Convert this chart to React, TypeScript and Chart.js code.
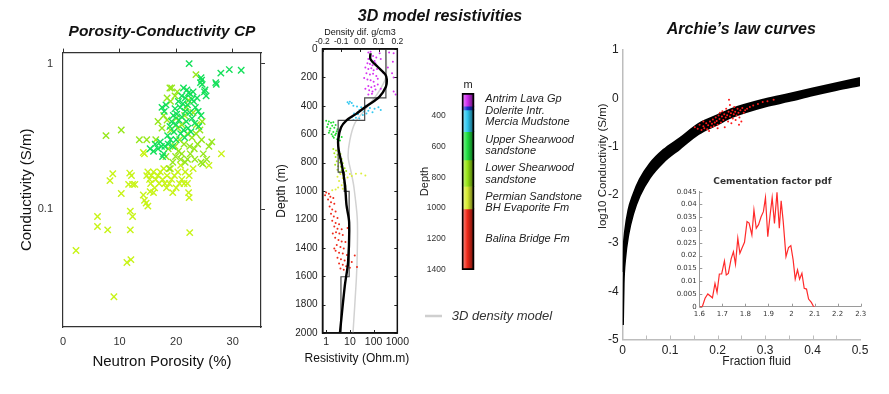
import React, { useEffect, useRef } from "react";
import { Chart, registerables } from "chart.js";

Chart.register(...registerables);

const SANS = "'Liberation Sans', Arial, Helvetica, sans-serif";
const DEJAVU = "'DejaVu Sans', Verdana, sans-serif";
Chart.defaults.font.family = SANS;

// ---------------- Panel 1: Porosity-Conductivity cross-plot ----------------
const p1XTicks = [0, 10, 20, 30];
const p1YTicks = [0.1, 1];
const greenPts: [number, number][] = [
  [22.3, 1.0], [24.4, 0.8], [24.5, 0.77], [24.3, 0.74], [24.6, 0.72], [25.1, 0.66], [25.0, 0.64], [27.0, 0.74],
  [27.1, 0.72], [27.9, 0.86], [29.4, 0.91], [31.5, 0.9], [21.3, 0.68], [21.9, 0.66], [22.2, 0.63], [22.5, 0.62],
  [21.0, 0.6], [21.6, 0.58], [22.8, 0.57], [23.1, 0.55], [20.4, 0.55], [21.2, 0.53], [22.0, 0.52], [23.4, 0.5],
  [23.7, 0.58], [20.7, 0.5], [19.8, 0.49], [21.6, 0.47], [22.4, 0.46], [23.9, 0.47], [20.1, 0.45], [19.5, 0.44],
  [21.0, 0.43], [22.8, 0.42], [24.4, 0.44], [20.5, 0.41], [19.2, 0.4], [21.8, 0.4], [23.3, 0.39], [20.0, 0.38],
  [18.9, 0.37], [22.1, 0.36], [21.3, 0.35], [24.0, 0.37], [19.6, 0.34], [20.8, 0.33], [18.5, 0.32], [22.6, 0.34],
  [17.5, 0.5], [17.9, 0.47], [18.2, 0.52], [15.4, 0.26], [16.0, 0.25], [16.8, 0.26], [17.4, 0.27], [16.3, 0.28],
  [17.2, 0.29], [17.8, 0.24], [18.0, 0.27], [17.6, 0.23], [18.6, 0.28], [19.0, 0.3], [19.4, 0.27], [20.0, 0.3],
  [21.5, 0.31], [25.3, 0.6], [23.0, 0.64],
];
const limePts: [number, number][] = [
  [23.5, 0.84], [18.9, 0.68], [19.2, 0.68], [18.4, 0.58], [19.0, 0.55], [19.8, 0.6], [20.2, 0.64], [22.2, 0.56],
  [21.8, 0.5], [23.0, 0.46], [17.8, 0.44], [18.4, 0.41], [19.0, 0.35], [20.3, 0.36], [21.0, 0.38], [22.0, 0.33],
  [22.8, 0.31], [23.5, 0.33], [24.2, 0.35], [24.6, 0.4], [20.6, 0.3], [21.4, 0.28], [22.4, 0.27], [23.2, 0.26],
  [23.8, 0.28], [24.5, 0.3], [19.8, 0.27], [20.4, 0.25], [19.9, 0.23], [21.0, 0.24], [22.0, 0.22], [23.3, 0.22],
  [24.8, 0.24], [25.8, 0.27], [26.3, 0.29], [18.6, 0.26], [18.2, 0.23], [17.5, 0.36], [16.4, 0.3], [14.8, 0.3],
  [13.5, 0.3], [24.4, 0.21], [24.7, 0.205], [25.4, 0.22], [22.5, 0.24], [21.6, 0.21], [20.8, 0.22], [19.4, 0.21],
  [18.8, 0.19], [10.3, 0.35], [7.6, 0.32], [16.8, 0.4], [21.5, 0.44], [20.0, 0.42], [23.6, 0.38],
];
const yellowPts: [number, number][] = [
  [28.0, 0.24], [25.8, 0.2], [22.3, 0.17], [22.0, 0.15], [22.2, 0.13], [22.3, 0.12], [22.4, 0.069], [21.6, 0.18],
  [21.0, 0.16], [20.6, 0.15], [20.0, 0.14], [19.7, 0.17], [19.2, 0.16], [18.8, 0.15], [18.4, 0.17], [18.0, 0.15],
  [17.6, 0.16], [17.2, 0.18], [16.8, 0.17], [16.4, 0.16], [16.0, 0.18], [15.6, 0.17], [15.3, 0.16], [15.0, 0.18],
  [14.8, 0.17], [15.5, 0.15], [16.2, 0.14], [17.0, 0.15], [18.3, 0.14], [19.4, 0.13], [16.0, 0.13], [20.3, 0.18],
  [19.0, 0.19], [17.8, 0.19], [21.4, 0.15], [20.8, 0.2], [23.0, 0.19], [14.2, 0.245], [14.4, 0.24], [14.2, 0.125],
  [14.4, 0.115], [14.7, 0.11], [15.0, 0.105], [15.4, 0.132], [11.6, 0.148], [12.3, 0.148], [12.7, 0.148],
  [11.8, 0.177], [12.1, 0.17], [8.3, 0.157], [8.8, 0.175], [10.3, 0.128], [11.9, 0.097], [12.3, 0.089],
  [11.9, 0.072], [7.9, 0.072], [6.1, 0.089], [6.1, 0.076], [2.3, 0.052], [9.0, 0.025], [11.3, 0.043], [12.0, 0.045],
];

// ---------------- Panel 2: 3D model resistivities ----------------
const depthTicks = [0, 200, 400, 600, 800, 1000, 1200, 1400, 1600, 1800, 2000];
const resTicks = [1, 10, 100, 1000];
const densityTicks = [-0.2, -0.1, 0, 0.1, 0.2];
const magentaRes: [number, number][] = [
  [60, 25], [75, 20], [180, 30], [450, 25], [700, 30], [70, 45], [95, 50], [130, 60], [60, 70], [80, 75], [110, 85],
  [200, 70], [55, 100], [70, 105], [90, 115], [120, 100], [650, 90], [45, 130], [60, 140], [80, 135], [100, 150],
  [140, 140], [400, 130], [50, 170], [70, 180], [95, 175], [130, 190], [250, 165], [600, 170], [40, 205], [55, 215],
  [75, 220], [100, 230], [150, 210], [700, 200], [60, 260], [80, 270], [110, 260], [150, 250], [45, 280], [65, 290],
  [90, 300], [120, 285], [200, 280], [60, 320], [85, 315], [700, 300], [850, 320],
];
const cyanRes: [number, number][] = [
  [8, 375], [10, 372], [12, 380], [9, 385], [14, 400], [20, 405], [30, 410], [45, 400], [70, 415], [110, 420],
  [160, 410], [200, 430], [25, 430], [40, 440], [60, 435], [90, 445], [15, 455], [22, 460], [35, 465], [50, 455],
  [12, 480], [18, 485], [25, 490], [9, 495], [14, 500],
];
const greenRes: [number, number][] = [
  [1.0, 505], [1.3, 510], [1.6, 520], [2.0, 515], [1.2, 530], [1.8, 540], [2.5, 535], [1.1, 550], [1.5, 560],
  [2.2, 555], [3.0, 565], [1.4, 575], [2.0, 585], [2.8, 580], [1.7, 600], [2.4, 605], [3.5, 610], [4.5, 620],
  [2.1, 625], [2.9, 635], [3.8, 645], [1.9, 615], [2.6, 595], [1.3, 590],
];
const limeRes: [number, number][] = [
  [2.0, 705], [2.6, 715], [3.3, 720], [2.2, 735], [3.0, 745], [4.0, 740], [2.5, 760], [3.5, 770], [4.5, 775],
  [2.8, 790], [3.8, 800], [5.0, 805], [2.4, 815], [3.2, 825], [4.2, 830], [6.0, 840], [3.0, 850], [4.5, 855],
  [7.0, 860], [3.6, 870],
];
const yellowRes: [number, number][] = [
  [4.0, 880], [6.0, 885], [10, 880], [18, 878], [30, 876], [45, 890], [3.0, 900], [5.0, 910], [8, 905], [3.5, 930],
  [5.5, 940], [4.5, 960], [6.5, 965], [3.2, 975], [2.5, 990], [5.0, 985], [1.8, 995], [12, 895],
];
const redRes: [number, number][] = [
  [1.0, 1010], [1.3, 1020], [0.9, 1030], [1.5, 1040], [2.0, 1050], [1.2, 1060], [1.6, 1080], [2.2, 1090],
  [1.4, 1110], [1.8, 1130], [2.5, 1145], [1.6, 1160], [2.1, 1180], [3.0, 1190], [1.8, 1210], [2.5, 1225],
  [3.5, 1235], [2.2, 1250], [3.0, 1265], [4.5, 1270], [8, 1260], [2.6, 1290], [3.6, 1300], [5.0, 1310],
  [2.4, 1330], [3.3, 1345], [4.5, 1355], [6.5, 1360], [2.8, 1380], [4.0, 1395], [5.5, 1405], [2.5, 1420],
  [3.5, 1435], [5.0, 1440], [7.5, 1450], [16, 1455], [3.0, 1470], [4.2, 1480], [6.0, 1490], [12, 1500],
  [3.5, 1510], [5.0, 1520], [7.0, 1530], [20, 1535], [4.0, 1545], [5.5, 1555], [10, 1540], [2.2, 1405], [1.9, 1300],
];
const modelCurve: [number, number][] = [
  [74, 30], [74, 72], [148, 125], [310, 179], [360, 214], [330, 266], [174, 337], [57, 396], [19, 455], [7.2, 502],
  [4.2, 553], [3.2, 643], [3.4, 714], [4.5, 808], [6.2, 955], [7.2, 1100], [9.3, 1220], [8.4, 1500], [6.1, 1668],
  [3.8, 2000],
];
const stepModel: [number, number][] = [
  [330, 0], [330, 344], [42, 344], [42, 502], [3.2, 502], [3.2, 867], [5.8, 867], [5.8, 1003], [9.3, 1003],
  [9.3, 1604], [4.2, 1604], [4.2, 2000],
];
const densityModel: [number, number][] = [
  [0.139, 0], [0.139, 196], [0.095, 313], [0.025, 431], [-0.028, 525], [-0.054, 643], [-0.063, 761],
  [-0.045, 879], [-0.032, 973], [-0.014, 1196], [-0.014, 1432], [-0.019, 1620], [-0.037, 2000],
];

// ---------------- Colour bar ----------------
const cbTicks = [400, 600, 800, 1000, 1200, 1400];
const bandStart = [255, 340, 365, 505, 688, 860, 1005];
const bandEnd = [340, 365, 505, 688, 860, 1005, 1400];
const bandColors = ["#d02cf0", "#1a2fd0", "#2ec8f0", "#1ee040", "#98e614", "#d8ec30", "#f02818"];
const formationNames = [
  "Antrim Lava Gp", "Dolerite Intr.", "Mercia Mudstone", "Upper Shearwood", "sandstone",
  "Lower Shearwood", "sandstone", "Permian Sandstone", "BH Evaporite Fm", "Balina Bridge Fm",
];
const formationDepths = [294, 372, 441, 558, 633, 742, 815, 928, 996, 1199];

// ---------------- Panel 3: Archie's law ----------------
const archXTicks = [0, 0.1, 0.2, 0.3, 0.4, 0.5];
const archXMinor = [0.05, 0.1, 0.15, 0.2, 0.25, 0.3, 0.35, 0.4, 0.45];
const archYTicks = [-5, -4, -3, -2, -1, 0, 1];
const archPhi = [0.0005, 0.002, 0.005, 0.012, 0.022, 0.036, 0.057, 0.086, 0.12, 0.16, 0.2, 0.23, 0.3, 0.35, 0.4, 0.45, 0.5];
const archTop = [-3.6, -3.1, -2.75, -2.32, -2.0, -1.68, -1.36, -1.07, -0.83, -0.53, -0.35, -0.22, -0.02, 0.09, 0.2, 0.31, 0.42];
const archBot = [-4.7, -3.85, -3.35, -2.82, -2.4, -2.02, -1.65, -1.32, -1.05, -0.74, -0.54, -0.39, -0.17, -0.06, 0.06, 0.17, 0.27];
const archPts: [number, number][] = [
  [0.152, -0.6], [0.158, -0.63], [0.162, -0.55], [0.166, -0.66], [0.17, -0.58], [0.172, -0.62], [0.176, -0.52],
  [0.178, -0.64], [0.18, -0.56], [0.184, -0.48], [0.186, -0.6], [0.188, -0.53], [0.19, -0.44], [0.192, -0.58],
  [0.194, -0.5], [0.196, -0.4], [0.198, -0.47], [0.2, -0.55], [0.202, -0.36], [0.204, -0.43], [0.205, -0.3],
  [0.207, -0.5], [0.209, -0.38], [0.21, -0.27], [0.212, -0.45], [0.214, -0.33], [0.215, -0.6], [0.217, -0.4],
  [0.218, -0.22], [0.22, -0.35], [0.222, -0.48], [0.223, -0.28], [0.224, -0.03], [0.226, -0.38], [0.228, -0.31],
  [0.229, -0.52], [0.231, -0.25], [0.232, -0.42], [0.234, -0.33], [0.235, -0.18], [0.237, -0.28], [0.238, -0.45],
  [0.24, -0.36], [0.242, -0.22], [0.244, -0.3], [0.246, -0.4], [0.248, -0.25], [0.25, -0.48], [0.252, -0.2],
  [0.255, -0.3], [0.258, -0.25], [0.262, -0.22], [0.268, -0.18], [0.275, -0.15], [0.285, -0.12], [0.295, -0.08],
  [0.305, -0.06], [0.318, -0.03], [0.17, -0.48], [0.182, -0.68], [0.2, -0.62], [0.226, -0.14], [0.245, -0.55],
];

// ---------------- Inset: cementation factor pdf ----------------
const pdfXTicks = [1.6, 1.7, 1.8, 1.9, 2.0, 2.1, 2.2, 2.3];
const pdfYTicks = [0, 0.005, 0.01, 0.015, 0.02, 0.025, 0.03, 0.035, 0.04, 0.045];
const pdfPts: [number, number][] = [
  [1.6, 0], [1.613, 0], [1.625, 0.0033], [1.637, 0.005], [1.657, 0.0035], [1.668, 0.0091], [1.677, 0.0056],
  [1.687, 0.0128], [1.697, 0.0128], [1.709, 0.0179], [1.717, 0.0124], [1.726, 0.013], [1.738, 0.0187],
  [1.748, 0.0215], [1.757, 0.0166], [1.767, 0.0268], [1.776, 0.0209], [1.784, 0.0227], [1.796, 0.0252],
  [1.807, 0.0333], [1.816, 0.0327], [1.828, 0.0281], [1.837, 0.0378], [1.847, 0.0307], [1.857, 0.0321],
  [1.868, 0.0352], [1.878, 0.0372], [1.887, 0.0427], [1.897, 0.0274], [1.907, 0.0358], [1.916, 0.0427],
  [1.926, 0.0326], [1.937, 0.0448], [1.947, 0.0307], [1.955, 0.0414], [1.964, 0.0333], [1.976, 0.0196],
  [1.987, 0.0231], [1.997, 0.0239], [2.007, 0.0183], [2.016, 0.0108], [2.026, 0.0144], [2.035, 0.0108],
  [2.045, 0.0131], [2.055, 0.0072], [2.065, 0.0069], [2.074, 0.003], [2.086, 0.0017], [2.096, 0], [2.1, 0],
];

// ---------------- helpers ----------------
const toXY = (pts: [number, number][]) => pts.map(([x, y]) => ({ x, y }));
const fixTicks = (vals: number[]) => (s: any) => {
  s.ticks = vals.map((v) => ({ value: v }));
};
const plain = (v: any) => String(Number(Number(v).toFixed(4)));

function mix(hex: string, to: string, t: number) {
  const p = (h: string) => [1, 3, 5].map((i) => parseInt(h.slice(i, i + 2), 16));
  const a = p(hex);
  const b = p(to);
  return `rgb(${a.map((v, i) => Math.round(v + (b[i] - v) * t)).join(",")})`;
}

type TickSpec = { axis: string; side: "top" | "bottom" | "left" | "right"; len: number; color: string; values?: number[] };
function innerTicks(specs: TickSpec[], frame?: { color: string; width: number }) {
  return {
    id: "innerTicks",
    afterDraw(chart: any) {
      const { ctx, chartArea: a } = chart;
      ctx.save();
      for (const s of specs) {
        const sc = chart.scales[s.axis];
        if (!sc) continue;
        const vals = s.values ?? sc.ticks.map((t: any) => t.value);
        ctx.strokeStyle = s.color;
        ctx.lineWidth = 1;
        ctx.beginPath();
        for (const v of vals) {
          const p = Math.round(sc.getPixelForValue(v)) + 0.5;
          if (s.side === "bottom") { ctx.moveTo(p, a.bottom); ctx.lineTo(p, a.bottom - s.len); }
          else if (s.side === "top") { ctx.moveTo(p, a.top); ctx.lineTo(p, a.top + s.len); }
          else if (s.side === "left") { ctx.moveTo(a.left, p); ctx.lineTo(a.left + s.len, p); }
          else { ctx.moveTo(a.right, p); ctx.lineTo(a.right - s.len, p); }
        }
        ctx.stroke();
      }
      if (frame) {
        ctx.strokeStyle = frame.color;
        ctx.lineWidth = frame.width;
        ctx.strokeRect(a.left, a.top, a.right - a.left, a.bottom - a.top);
      }
      ctx.restore();
    },
  };
}

const base = { animation: false, responsive: false, events: [] as any[] };
const noLegend = { legend: { display: false }, tooltip: { enabled: false } };

// ---------------- configs ----------------
function panel1(): any {
  const cross = (pts: [number, number][], c: string) => ({
    data: toXY(pts), pointStyle: "crossRot", pointRadius: 4.5, pointBorderWidth: 1.4,
    pointBorderColor: c, pointBackgroundColor: c, borderColor: c,
  });
  const dark = "#333";
  return {
    type: "scatter",
    data: { datasets: [cross(greenPts, "#14e05a"), cross(limePts, "#96e81c"), cross(yellowPts, "#c8f418")] },
    options: {
      ...base,
      layout: { padding: 0 },
      plugins: {
        ...noLegend,
        title: {
          display: true, text: "Porosity-Conductivity CP", color: "#111", fullSize: false,
          font: { size: 15.5, weight: "bold", style: "italic" }, padding: { top: 22, bottom: 7 },
        },
      },
      scales: {
        x: {
          type: "linear", position: "bottom", min: 0, max: 35, afterBuildTicks: fixTicks(p1XTicks),
          afterFit: (s: any) => { s.height = 67; },
          ticks: { color: dark, font: { size: 11 }, padding: 8, callback: plain },
          grid: { drawOnChartArea: false, drawTicks: false },
          border: { color: dark, width: 1.2 },
          title: { display: true, text: "Neutron Porosity (%)", color: "#111", font: { size: 15 }, padding: { top: 0, bottom: 23 } },
        },
        xTop: {
          type: "linear", position: "top", min: 0, max: 35, afterBuildTicks: fixTicks(p1XTicks),
          afterFit: (s: any) => { s.height = 5; },
          ticks: { display: false },
          grid: { drawOnChartArea: false, drawTicks: true, tickLength: 4, color: dark },
          border: { color: dark, width: 1.2 },
        },
        y: {
          type: "logarithmic", position: "left", min: 0.0155, max: 1.19, afterBuildTicks: fixTicks(p1YTicks),
          afterFit: (s: any) => { s.width = 63; },
          ticks: { color: dark, font: { size: 11 }, padding: 10, callback: plain },
          grid: { drawOnChartArea: false, drawTicks: false },
          border: { color: dark, width: 1.2 },
          title: { display: true, text: "Conductivity (S/m)", color: "#111", font: { size: 15 }, padding: { top: 18, bottom: 0 } },
        },
        yRight: {
          type: "logarithmic", position: "right", min: 0.0155, max: 1.19, afterBuildTicks: fixTicks(p1YTicks),
          afterFit: (s: any) => { s.width = 19; },
          ticks: { display: false },
          grid: { drawOnChartArea: false, drawTicks: true, tickLength: 4, color: dark },
          border: { color: dark, width: 1.2 },
        },
      },
    },
  };
}

function panel2(): any {
  const dots = (pts: [number, number][], c: string) => ({
    data: toXY(pts), showLine: false, pointRadius: 1, pointBorderWidth: 0, pointBackgroundColor: c,
  });
  const line = (pts: [number, number][], c: string, w: number, tension: number, xAxisID = "x") => ({
    data: toXY(pts), showLine: true, pointRadius: 0, borderColor: c, borderWidth: w, tension, xAxisID,
  });
  const dark = "#222";
  const xTitle = {
    id: "resTitle",
    afterDraw(chart: any) {
      const { ctx, chartArea: a } = chart;
      ctx.save();
      ctx.font = `12px ${SANS}`;
      ctx.fillStyle = "#111";
      ctx.textAlign = "center";
      ctx.textBaseline = "middle";
      ctx.fillText("Resistivity (Ohm.m)", (a.left + a.right) / 2 - 3, 359);
      ctx.restore();
    },
  };
  return {
    type: "scatter",
    data: {
      datasets: [
        line(modelCurve, "#000", 2.4, 0.3),
        line(stepModel, "#4a4a4a", 1.2, 0),
        dots(magentaRes, "#d633f0"),
        dots(cyanRes, "#33c8f0"),
        dots(greenRes, "#22dd33"),
        dots(limeRes, "#a4e61a"),
        dots(yellowRes, "#dcee3a"),
        dots(redRes, "#ee2a1a"),
        line(densityModel, "#d2d2d2", 1.5, 0.3, "x2"),
      ],
    },
    options: {
      ...base,
      layout: { padding: { right: 13.5 } },
      plugins: { ...noLegend },
      scales: {
        x: {
          type: "logarithmic", position: "bottom", min: 0.7, max: 1000, afterBuildTicks: fixTicks(resTicks),
          afterFit: (s: any) => { s.height = 61; },
          ticks: { color: dark, font: { size: 10.5 }, padding: 3, minRotation: 0, maxRotation: 0, autoSkip: false, callback: plain },
          grid: { drawOnChartArea: false, drawTicks: false },
          border: { color: "#111", width: 1.5 },
        },
        x2: {
          type: "linear", position: "top", min: -0.2, max: 0.2, afterBuildTicks: fixTicks(densityTicks),
          afterFit: (s: any) => { s.height = 49; },
          ticks: { color: dark, font: { size: 8.5 }, padding: 2, minRotation: 0, maxRotation: 0, autoSkip: false, callback: (v: any) => Number(v).toFixed(1) },
          grid: { drawOnChartArea: false, drawTicks: false },
          border: { color: "#111", width: 1.5 },
          title: { display: true, text: "Density dif. g/cm3", color: "#111", font: { size: 9 }, padding: { top: 27, bottom: 0 } },
        },
        y: {
          type: "linear", position: "left", reverse: true, min: 0, max: 2000, afterBuildTicks: fixTicks(depthTicks),
          afterFit: (s: any) => { s.width = 60.5; },
          ticks: { color: dark, font: { size: 10 }, padding: 5, autoSkip: false, callback: plain },
          grid: { drawOnChartArea: false, drawTicks: false },
          border: { color: "#111", width: 1.5 },
          title: { display: true, text: "Depth (m)", color: "#111", font: { size: 12 }, padding: { top: 12, bottom: 0 } },
        },
      },
    },
    plugins: [
      innerTicks(
        [
          { axis: "y", side: "left", len: 3, color: "#222" },
          { axis: "y", side: "right", len: 3, color: "#222" },
          { axis: "x", side: "bottom", len: 3, color: "#222" },
          { axis: "x2", side: "top", len: 3, color: "#222" },
        ],
        { color: "#111", width: 1.5 },
      ),
      xTitle,
    ],
  };
}

function colorBar(): any {
  const shade = (c: string) => (ctx: any) => {
    const a = ctx.chart.chartArea;
    if (!a) return c;
    const g = ctx.chart.ctx.createLinearGradient(a.left, 0, a.right, 0);
    g.addColorStop(0, mix(c, "#ffffff", 0.55));
    g.addColorStop(0.45, c);
    g.addColorStop(1, mix(c, "#000000", 0.6));
    return g;
  };
  const bands = bandStart.map((s, i) => ({
    data: [[s, bandEnd[i]]], backgroundColor: shade(bandColors[i]), borderWidth: 0,
    grouped: false, barPercentage: 1, categoryPercentage: 1,
  }));
  const frame = {
    data: [[bandStart[0], bandEnd[bandEnd.length - 1]]], backgroundColor: "rgba(0,0,0,0)", borderColor: "#000",
    borderWidth: 1.5, borderSkipped: false, grouped: false, barPercentage: 1, categoryPercentage: 1,
  };
  const labels = {
    id: "formationLabels",
    afterDraw(chart: any) {
      const { ctx, chartArea: a } = chart;
      const y = chart.scales.y;
      ctx.save();
      ctx.font = `italic 11px ${SANS}`;
      ctx.fillStyle = "#222";
      ctx.textAlign = "left";
      ctx.textBaseline = "middle";
      formationNames.forEach((t, i) => ctx.fillText(t, a.right + 11, y.getPixelForValue(formationDepths[i])));
      // legend entry for the 3D density model line of the resistivity panel
      ctx.strokeStyle = "#cfcfcf";
      ctx.lineWidth = 2.5;
      ctx.beginPath();
      ctx.moveTo(135, 316);
      ctx.lineTo(152, 316);
      ctx.stroke();
      ctx.font = `italic 13px ${SANS}`;
      ctx.fillStyle = "#333";
      ctx.fillText("3D density model", 161.7, 316);
      ctx.restore();
    },
  };
  return {
    type: "bar",
    data: { labels: [""], datasets: [frame, ...bands] },
    options: {
      ...base,
      layout: { padding: { bottom: 124 } },
      plugins: {
        ...noLegend,
        title: {
          display: true, text: "3D model resistivities", color: "#111", fullSize: true,
          font: { size: 16, weight: "bold", style: "italic" }, padding: { top: 7, bottom: 0 },
        },
        subtitle: {
          display: true, text: "m", color: "#222", fullSize: false, font: { size: 11 }, padding: { top: 52.4, bottom: 1.1 },
        },
      },
      scales: {
        x: { display: false },
        y: {
          type: "linear", position: "left", reverse: true, min: 255, max: 1400, afterBuildTicks: fixTicks(cbTicks),
          afterFit: (s: any) => { s.width = 171.7; },
          ticks: { color: "#333", font: { size: 8.5 }, padding: 8, callback: plain },
          grid: { display: false },
          border: { display: false },
          title: { display: true, text: "Depth", color: "#222", font: { size: 11 }, padding: { top: 128.4, bottom: 0 } },
        },
        yR: {
          type: "linear", position: "right", display: true,
          afterFit: (s: any) => { s.width = 115.7; },
          ticks: { display: false }, grid: { display: false }, border: { display: false },
        },
      },
    },
    plugins: [labels],
  };
}

function panel3(): any {
  const axisTitles = {
    id: "archTitles",
    afterDraw(chart: any) {
      const { ctx } = chart;
      ctx.save();
      ctx.fillStyle = "#222";
      ctx.textAlign = "center";
      ctx.textBaseline = "middle";
      ctx.font = `12px ${SANS}`;
      ctx.fillText("Fraction fluid", 176.7, 361.7);
      ctx.translate(23.3, 166);
      ctx.rotate(-Math.PI / 2);
      ctx.font = `11.5px ${SANS}`;
      ctx.fillText("log10 Conductivity (S/m)", 0, 0);
      ctx.restore();
    },
  };
  const band = (ys: number[], fill: any) => ({
    data: archPhi.map((x, i) => ({ x, y: ys[i] })), borderColor: "#000", backgroundColor: "#000", borderWidth: 2,
    pointRadius: 0, fill, cubicInterpolationMode: "monotone",
  });
  return {
    type: "line",
    data: {
      datasets: [
        { data: toXY(archPts), showLine: false, pointRadius: 1, pointBorderWidth: 0, pointBackgroundColor: "#ff1a1a" },
        band(archTop, "+1"),
        band(archBot, false),
      ],
    },
    options: {
      ...base,
      layout: { padding: { right: 29 } },
      plugins: {
        ...noLegend,
        title: {
          display: true, text: "Archie\u2019s law curves", color: "#111", fullSize: false,
          font: { size: 16, weight: "bold", style: "italic" }, padding: { top: 20.4, bottom: 10.4 },
        },
      },
      scales: {
        x: {
          type: "linear", position: "bottom", min: 0, max: 0.5, afterBuildTicks: fixTicks(archXTicks),
          afterFit: (s: any) => { s.height = 54.5; },
          ticks: { color: "#222", font: { size: 12 }, padding: 4, maxRotation: 0, callback: plain },
          grid: { drawOnChartArea: false, drawTicks: false },
          border: { color: "#bdbdbd", width: 1.5 },
        },
        y: {
          type: "linear", position: "left", min: -5, max: 1, afterBuildTicks: fixTicks(archYTicks),
          afterFit: (s: any) => { s.width = 42.7; },
          ticks: { color: "#222", font: { size: 12 }, padding: 4, callback: plain },
          grid: { drawOnChartArea: false, drawTicks: false },
          border: { color: "#bdbdbd", width: 1.5 },
        },
      },
    },
    plugins: [innerTicks([{ axis: "x", side: "bottom", len: 4, color: "#bdbdbd", values: archXMinor }]), axisTitles],
  };
}

function inset(): any {
  return {
    type: "line",
    data: {
      datasets: [
        { data: toXY(pdfPts), borderColor: "#ff2a2a", borderWidth: 1.2, pointRadius: 0, tension: 0 },
      ],
    },
    options: {
      ...base,
      layout: { padding: 0 },
      plugins: {
        ...noLegend,
        title: {
          display: true, text: "Cementation factor pdf", color: "#333", fullSize: true,
          font: { family: DEJAVU, size: 9, weight: "bold" }, padding: { top: 6.3, bottom: 4.6 },
        },
      },
      scales: {
        x: {
          type: "linear", position: "bottom", min: 1.6, max: 2.3, afterBuildTicks: fixTicks(pdfXTicks),
          afterFit: (s: any) => { s.height = 18.3; },
          ticks: { color: "#333", font: { family: DEJAVU, size: 7 }, padding: 3, maxRotation: 0, autoSkip: false, callback: plain },
          grid: { drawOnChartArea: false, drawTicks: false },
          border: { color: "#9a9a9a", width: 1 },
        },
        y: {
          type: "linear", position: "left", min: 0, max: 0.045, afterBuildTicks: fixTicks(pdfYTicks),
          afterFit: (s: any) => { s.width = 34.3; },
          ticks: { color: "#333", font: { family: DEJAVU, size: 7 }, padding: 2.6, autoSkip: false, callback: plain },
          grid: { drawOnChartArea: false, drawTicks: false },
          border: { color: "#9a9a9a", width: 1 },
        },
        yR: {
          type: "linear", position: "right", display: true,
          afterFit: (s: any) => { s.width = 19.3; },
          ticks: { display: false }, grid: { display: false }, border: { display: false },
        },
      },
    },
    plugins: [
      innerTicks([
        { axis: "x", side: "bottom", len: 3, color: "#9a9a9a" },
        { axis: "y", side: "left", len: 3, color: "#9a9a9a" },
      ]),
    ],
  };
}

// ---------------- components ----------------
function ChartBox(props: { left: number; top: number; width: number; height: number; make: () => any }) {
  const ref = useRef<HTMLCanvasElement | null>(null);
  useEffect(() => {
    const chart = new Chart(ref.current as HTMLCanvasElement, props.make());
    return () => chart.destroy();
  }, []);
  return (
    <canvas
      ref={ref}
      width={props.width}
      height={props.height}
      style={{ position: "absolute", left: props.left, top: props.top, width: props.width, height: props.height, display: "block" }}
    />
  );
}

export default function App() {
  return (
    <div style={{ position: "absolute", left: 0, top: 0, width: 889, height: 394, background: "#fff", overflow: "hidden" }}>
      <ChartBox left={0} top={0} width={280} height={394} make={panel1} />
      <ChartBox left={290} top={0} width={300} height={394} make={colorBar} />
      <ChartBox left={262} top={0} width={150} height={394} make={panel2} />
      <ChartBox left={580} top={0} width={309} height={394} make={panel3} />
      <ChartBox left={665} top={170} width={215} height={155} make={inset} />
    </div>
  );
}
